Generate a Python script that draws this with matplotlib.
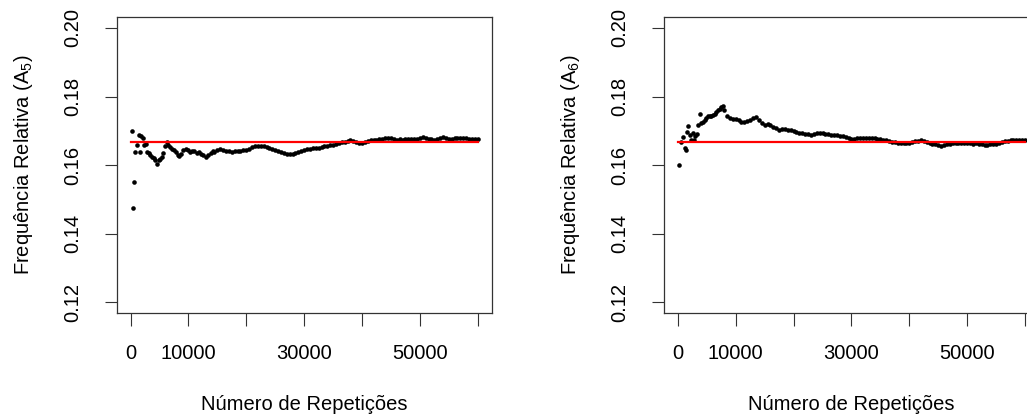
import matplotlib
matplotlib.use("Agg")
import matplotlib.pyplot as plt
import numpy as np

plt.rcParams['font.family'] = ['Liberation Sans', 'DejaVu Sans']
plt.rcParams['mathtext.fontset'] = 'custom'
plt.rcParams['mathtext.rm'] = 'Liberation Sans'
plt.rcParams['mathtext.it'] = 'Liberation Sans'

# valor teorico 1/6
p_teo = 1 / 6
n_max = 60000

# ---- A5: frequencia relativa acumulada
x_a5 = [280, 400, 570, 800, 1140, 1440, 1660, 1780, 2070, 2350, 2590, 2820, 3110, 3390,
        3680, 3980, 4250, 4550, 4840, 5120, 5410, 5640, 5930, 6220, 6510, 6860, 7150, 7490,
        7780, 8130, 8410, 8700, 9100, 9500, 9850, 10260, 10660, 11000, 11410, 11810, 12160,
        12560, 12960, 13420, 13880, 14290,
        14500, 15000, 15500, 16000, 16500, 17000, 17500, 18000, 18500, 19000, 19500, 20000,
        20500, 21000, 21500, 22000, 22500, 23000, 23500, 24000, 24500, 25000, 25500, 26000,
        26500, 27000, 27500, 28000, 28500, 29000, 29500, 30000, 30500, 31000, 31500, 32000,
        32500, 33000, 33500, 34000, 34500, 35000, 35500, 36000, 36500, 37000, 37500, 38000,
        38500, 39000, 39500, 40000, 40500, 41000, 41500, 42000, 42500, 43000, 43500, 44000,
        44500, 45000, 45500, 46000, 46500, 47000, 47500, 48000, 48500, 49000, 49500, 50000,
        50500, 51000, 51500, 52000, 52500, 53000, 53500, 54000, 54500, 55000, 55500, 56000,
        56500, 57000, 57500, 58000, 58500, 59000, 59500, 60000]
y_a5 = [0.1700, 0.1475, 0.1551, 0.1638, 0.1660, 0.1688, 0.1639, 0.1684, 0.1680, 0.1660,
        0.1661, 0.1639, 0.1635, 0.1630, 0.1625, 0.1622, 0.1614, 0.1602, 0.1616, 0.1619,
        0.1625, 0.1635, 0.1657, 0.1668, 0.1660, 0.1654, 0.1648, 0.1643, 0.1637, 0.1630,
        0.1627, 0.1633, 0.1645, 0.1648, 0.1645, 0.1639, 0.1642, 0.1641, 0.1635, 0.1637,
        0.1633, 0.1630, 0.1625, 0.1630, 0.1635, 0.1640,
        0.1639, 0.1643, 0.1647, 0.1645, 0.1642, 0.1640, 0.1638, 0.1640, 0.1642, 0.1641,
        0.1643, 0.1645, 0.1648, 0.1652, 0.1655, 0.1656, 0.1657, 0.1655, 0.1652, 0.1649,
        0.1646, 0.1643, 0.1640, 0.1637, 0.1635, 0.1633, 0.1631, 0.1632, 0.1636, 0.1639,
        0.1641, 0.1644, 0.1646, 0.1648, 0.1649, 0.1650, 0.1651, 0.1654, 0.1656, 0.1657,
        0.1659, 0.1660, 0.1662, 0.1664, 0.1666, 0.1668, 0.1671, 0.1672, 0.1670, 0.1667,
        0.1665, 0.1664, 0.1667, 0.1670, 0.1672, 0.1673, 0.1674, 0.1676, 0.1677, 0.1678,
        0.1679, 0.1678, 0.1676, 0.1674, 0.1675, 0.1674, 0.1675, 0.1676, 0.1677, 0.1676,
        0.1677, 0.1680, 0.1682, 0.1680, 0.1677, 0.1675, 0.1674, 0.1677, 0.1680, 0.1681,
        0.1679, 0.1676, 0.1677, 0.1679, 0.1680, 0.1679, 0.1679, 0.1678, 0.1677, 0.1677,
        0.1677, 0.1676]

# ---- A6
x_a6 = [283, 571, 974, 1205, 1435, 1608, 1839, 2185, 2358, 2588, 2819, 3049, 3337, 3510,
        3798, 4086, 4375, 4663, 4951, 5239, 5527, 5815, 6103, 6392, 6680, 6968, 7256, 7544,
        7775,
        8000, 8500, 9000, 9500, 10000, 10500, 11000, 11500, 12000, 12500, 13000, 13500,
        14000, 14500, 15000, 15500, 16000, 16500, 17000, 17500, 18000, 18500, 19000, 19500,
        20000, 20500, 21000, 21500, 22000, 22500, 23000, 23500, 24000, 24500, 25000, 25500,
        26000, 26500, 27000, 27500, 28000, 28500, 29000, 29500, 30000, 30500, 31000, 31500,
        32000, 32500, 33000, 33500, 34000, 34500, 35000, 35500, 36000, 36500, 37000, 37500,
        38000, 38500, 39000, 39500, 40000, 40500, 41000, 41500, 42000, 42500, 43000, 43500,
        44000, 44500, 45000, 45500, 46000, 46500, 47000, 47500, 48000, 48500, 49000, 49500,
        50000, 50500, 51000, 51500, 52000, 52500, 53000, 53500, 54000, 54500, 55000, 55500,
        56000, 56500, 57000, 57500, 58000, 58500, 59000, 59500, 60000]
y_a6 = [0.1600, 0.1667, 0.1682, 0.1650, 0.1643, 0.1698, 0.1713, 0.1688, 0.1672, 0.1695,
        0.1674, 0.1684, 0.1690, 0.1717, 0.1748, 0.1722, 0.1727, 0.1732, 0.1737, 0.1742,
        0.1744, 0.1744, 0.1747, 0.1750, 0.1754, 0.1760, 0.1763, 0.1769, 0.1771,
        0.1760, 0.1742, 0.1738, 0.1735, 0.1734, 0.1731, 0.1727, 0.1725, 0.1728, 0.1732,
        0.1737, 0.1741, 0.1732, 0.1722, 0.1716, 0.1721, 0.1718, 0.1712, 0.1707, 0.1703,
        0.1704, 0.1704, 0.1703, 0.1702, 0.1700, 0.1697, 0.1695, 0.1694, 0.1692, 0.1690,
        0.1689, 0.1691, 0.1693, 0.1695, 0.1695, 0.1692, 0.1690, 0.1689, 0.1689, 0.1688,
        0.1686, 0.1684, 0.1682, 0.1680, 0.1677, 0.1676, 0.1678, 0.1679, 0.1679, 0.1678,
        0.1678, 0.1679, 0.1679, 0.1677, 0.1676, 0.1674, 0.1672, 0.1670, 0.1668, 0.1666,
        0.1665, 0.1664, 0.1664, 0.1664, 0.1665, 0.1667, 0.1669, 0.1671, 0.1672, 0.1670,
        0.1667, 0.1665, 0.1663, 0.1661, 0.1659, 0.1657, 0.1659, 0.1662, 0.1663, 0.1664,
        0.1664, 0.1664, 0.1665, 0.1664, 0.1664, 0.1664, 0.1663, 0.1664, 0.1662, 0.1661,
        0.1660, 0.1660, 0.1661, 0.1662, 0.1663, 0.1664, 0.1666, 0.1669, 0.1671, 0.1672,
        0.1672, 0.1673, 0.1672, 0.1672, 0.1672]

xticks = [0, 10000, 20000, 30000, 40000, 50000, 60000]
xticklabels = ["0", "10000", "", "30000", "", "50000", ""]
yticks = [0.12, 0.14, 0.16, 0.18, 0.20]
yticklabels = ["0.12", "0.14", "0.16", "0.18", "0.20"]

fs = 14.5
fig = plt.figure(figsize=(10.27, 4.19), dpi=100)


def painel(pos, x, y, ylab):
    ax = fig.add_axes(pos)
    ax.plot(x, y, 'o', color='black', markersize=3.3, markeredgewidth=0)
    ax.plot([0, n_max], [p_teo, p_teo], color='red', lw=1.6)
    ax.set_xlim(-2400, 62400)
    ax.set_ylim(0.1168, 0.2032)
    ax.set_xticks(xticks)
    ax.set_xticklabels(xticklabels, fontsize=fs)
    ax.set_yticks(yticks)
    ax.set_yticklabels(yticklabels, fontsize=fs, rotation=90, va='center')
    ax.tick_params(axis='both', direction='out', length=9, width=0.8, color='#333333')
    ax.tick_params(axis='x', pad=13)
    ax.tick_params(axis='y', pad=16)
    for s in ax.spines.values():
        s.set_linewidth(0.9)
        s.set_color('#333333')
    ax.set_xlabel("Número de Repetições", fontsize=fs, labelpad=23)
    ax.set_ylabel(ylab, fontsize=fs, labelpad=20)
    return ax


painel([0.1136, 0.2523, 0.3651, 0.7072], x_a5, y_a5, r"Frequência Relativa ($\mathregular{A_5}$)")
painel([0.6465, 0.2523, 0.3651, 0.7072], x_a6, y_a6, r"Frequência Relativa ($\mathregular{A_6}$)")

fig.savefig("out.png", dpi=100)
